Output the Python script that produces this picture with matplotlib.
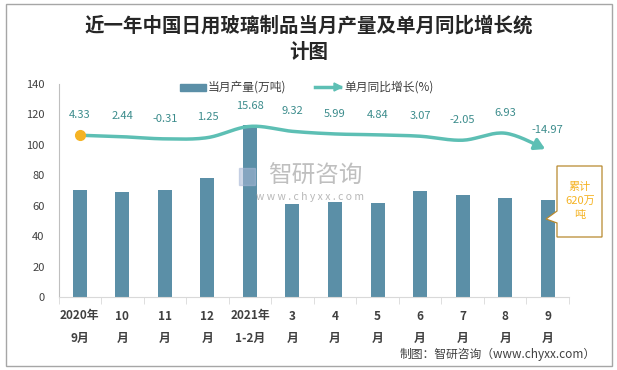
import numpy as np
import matplotlib
matplotlib.use("Agg")
import matplotlib.pyplot as plt
from matplotlib.patches import Polygon, Rectangle
from matplotlib.lines import Line2D

plt.rcParams['font.family'] = ['Noto Sans CJK SC', 'DejaVu Sans']

categories = ["2020年\n9月", "10\n月", "11\n月", "12\n月", "2021年\n1-2月", "3\n月", "4\n月", "5\n月", "6\n月", "7\n月", "8\n月", "9\n月"]
production = [70.3, 69.0, 70.3, 78.0, 113.0, 61.0, 62.5, 62.0, 70.0, 67.0, 65.0, 64.0]
growth = [4.33, 2.44, -0.31, 1.25, 15.68, 9.32, 5.99, 4.84, 3.07, -2.05, 6.93, -14.97]
growth_labels = ["4.33", "2.44", "-0.31", "1.25", "15.68", "9.32", "5.99", "4.84", "3.07", "-2.05", "6.93", "-14.97"]

W, H = 617, 370
fig = plt.figure(figsize=(W/100, H/100), dpi=100)
fig.patches.append(Rectangle((6/W, 4/H), 606/W, 362/H, transform=fig.transFigure,
                             fill=False, edgecolor='#A6A6A6', linewidth=1.0))

ax = fig.add_axes([58.5/W, 1-297/H, (569-58.5)/W, (297-84)/H])
x = np.arange(len(categories))
bar_color = '#5B8FA7'
ax.bar(x, production, width=0.33, color=bar_color, zorder=2)
ax.set_xlim(-0.5, len(categories)-0.5)
ax.set_ylim(0, 140)
ax.set_yticks(range(0, 141, 20))
ax.tick_params(axis='y', length=0, labelsize=8, colors='#404040', pad=10)
ax.set_xticks(x)
ax.set_xticklabels(categories, fontsize=8.5, fontweight='bold', color='#404040', linespacing=1.9)
ax.tick_params(axis='x', length=0, pad=9)
ax.set_xticks(np.arange(-0.5, len(categories), 1), minor=True)
ax.tick_params(axis='x', which='minor', length=5, color='#D9D9D9')
for s in ['top', 'right']:
    ax.spines[s].set_visible(False)
ax.spines['left'].set_color('#BFBFBF')
ax.spines['bottom'].set_color('#D9D9D9')

# growth line on hidden secondary axis
ax2 = ax.twinx()
ax2.set_ylim(-203, 70)
ax2.axis('off')
line_color = '#5DBFB4'

def catmull(xs, ys, n=20):
    px = np.concatenate([[xs[0]], xs, [xs[-1]]])
    py = np.concatenate([[ys[0]], ys, [ys[-1]]])
    ox, oy = [], []
    for i in range(1, len(px)-2):
        t = np.linspace(0, 1, n, endpoint=False)
        for arr, out in ((px, ox), (py, oy)):
            p0, p1, p2, p3 = arr[i-1], arr[i], arr[i+1], arr[i+2]
            out.extend(0.5*((2*p1) + (-p0+p2)*t + (2*p0-5*p1+4*p2-p3)*t**2 + (-p0+3*p1-3*p2+p3)*t**3))
    ox.append(xs[-1]); oy.append(ys[-1])
    return np.array(ox), np.array(oy)

sx, sy = catmull(x.astype(float), np.array(growth, dtype=float))
ax2.plot(sx[:-6], sy[:-6], color=line_color, linewidth=2.5, solid_capstyle='butt', zorder=3)
ax2.annotate('', xy=(sx[-1], sy[-1]), xytext=(sx[-8], sy[-8]),
             arrowprops=dict(arrowstyle='-|>,head_length=0.6,head_width=0.35', color=line_color, lw=2.5))
ax2.plot([x[0]], [growth[0]], 'o', color='#F5B324', markersize=7, zorder=4)
for xi, g, lab in zip(x, growth, growth_labels):
    ax2.annotate(lab, (xi, g), xytext=(0, 11), textcoords='offset points', ha='center', va='bottom',
                 fontsize=8, color='#3C8C8C')

# legend
fig.patches.append(Rectangle((180/W, 1-91/H), 26/W, 7/H, transform=fig.transFigure, color=bar_color))
fig.text(208/W, 1-87/H, '当月产量(万吨)', fontsize=8.5, color='#404040', va='center')
fig.add_artist(Line2D([315/W, 340/W], [1-87/H, 1-87/H], transform=fig.transFigure, color=line_color, lw=2.5))
fig.add_artist(Polygon([[334/W, 1-83/H], [342/W, 1-87/H], [334/W, 1-91/H]], closed=True,
                       transform=fig.transFigure, color=line_color))
fig.text(344/W, 1-87/H, '单月同比增长(%)', fontsize=8.5, color='#404040', va='center')

# title
fig.text(309/W, 1-26/H, '近一年中国日用玻璃制品当月产量及单月同比增长统', fontsize=14,
         fontweight='bold', ha='center', va='center', color='#262626')
fig.text(309/W, 1-53/H, '计图', fontsize=14, fontweight='bold', ha='center', va='center', color='#262626')

# watermark
fig.text(315/W, 1-176/H, '智研咨询', fontsize=17, color='#8C8C8C', alpha=0.55, ha='center', va='center')
fig.patches.append(Rectangle((239/W, 1-185/H), 16/W, 17/H, transform=fig.transFigure,
                             color='#A9B8D6', alpha=0.55))
fig.text(310/W, 1-197/H, 'w w w . c h y x x . c o m', fontsize=7.5, color='#9A9A9A', alpha=0.7,
         ha='center', va='center')

# callout box
gold = '#B8892E'
box = Polygon([[557/W, 1-166/H], [602/W, 1-166/H], [602/W, 1-237/H], [557/W, 1-237/H],
               [557/W, 1-223/H], [546/W, 1-219/H], [557/W, 1-211/H]], closed=True,
              transform=fig.transFigure, facecolor='white', edgecolor=gold, lw=0.9, zorder=5)
fig.patches.append(box)
fig.text(580/W, 1-201/H, '累计\n620万\n吨', fontsize=8, color='#F5B324', ha='center', va='center',
         linespacing=1.5, zorder=6)

fig.text(596/W, 1-354/H, '制图：智研咨询（www.chyxx.com）', fontsize=8.5, color='#404040', ha='right', va='center')

fig.savefig('out.png', dpi=100)
